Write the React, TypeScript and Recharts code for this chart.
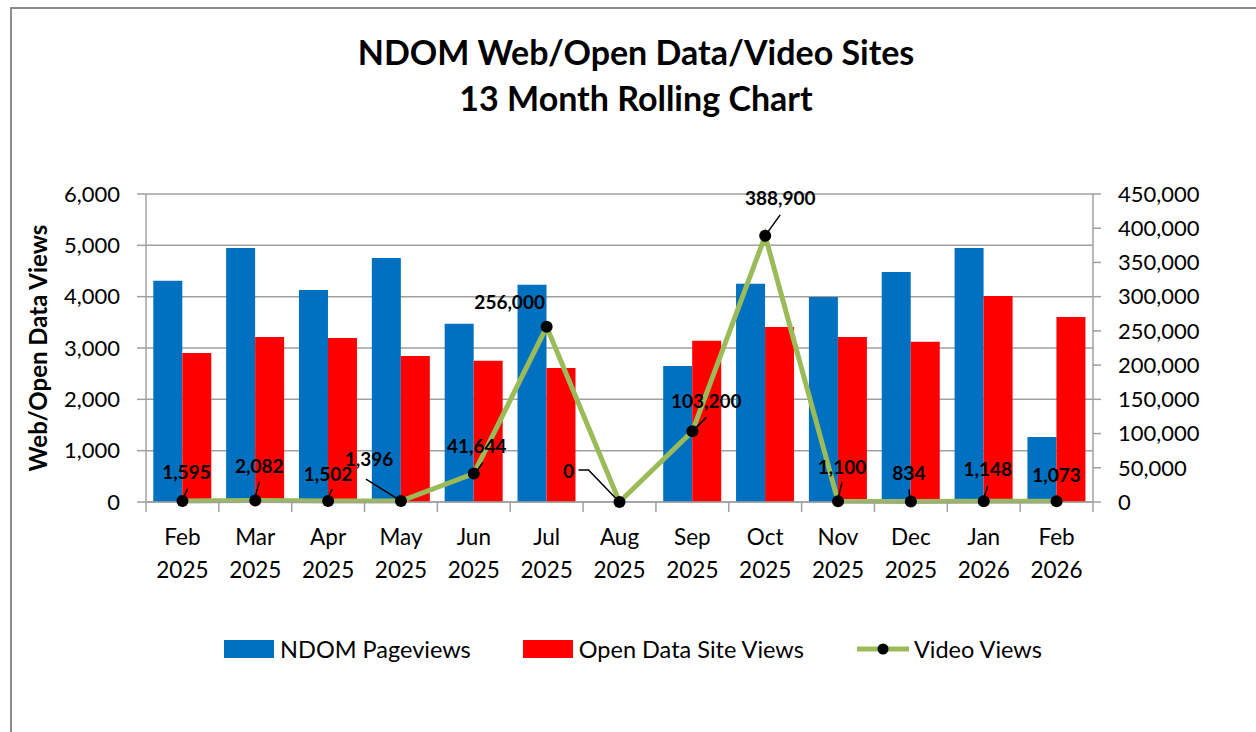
import React from "react";
import {
  ComposedChart,
  Bar,
  Line,
  XAxis,
  YAxis,
  CartesianGrid,
  LabelList,
} from "recharts";

const months = ["Feb", "Mar", "Apr", "May", "Jun", "Jul", "Aug", "Sep", "Oct", "Nov", "Dec", "Jan", "Feb"];
const years = ["2025", "2025", "2025", "2025", "2025", "2025", "2025", "2025", "2025", "2025", "2025", "2026", "2026"];
const ndomPageviews = [4310, 4950, 4130, 4755, 3470, 4230, null, 2650, 4250, 3995, 4480, 4950, 1265];
const openDataViews = [2905, 3215, 3195, 2845, 2750, 2610, null, 3140, 3410, 3215, 3120, 4015, 3605];
const videoViews = [1595, 2082, 1502, 1396, 41644, 256000, 0, 103200, 388900, 1100, 834, 1148, 1073];
const leftTicks = [0, 1000, 2000, 3000, 4000, 5000, 6000];
const rightTicks = [0, 50000, 100000, 150000, 200000, 250000, 300000, 350000, 400000, 450000];

// manual label placement (Excel-style dragged labels): text offset + leader line
const labelPlacement: { dx: number; dy: number; leader?: number[][] }[] = [
  { dx: 4, dy: -29, leader: [[5, -12], [1, -3]] },
  { dx: 4, dy: -35, leader: [[4, -19], [0, -4]] },
  { dx: 0, dy: -27, leader: [[4, -12], [0, -3]] },
  { dx: -32, dy: -43, leader: [[-35, -22], [-3, -2]] },
  { dx: 3, dy: -28, leader: [[9, -11], [2, -1]] },
  { dx: -37, dy: -25 },
  { dx: -51, dy: -32, leader: [[-41, -32], [-31, -32], [-3, -3]] },
  { dx: 14, dy: -31, leader: [[14, -14], [1, -1]] },
  { dx: 15, dy: -38, leader: [[15, -21], [2, -3]] },
  { dx: 4, dy: -35, leader: [[4, -19], [0, -3]] },
  { dx: -2, dy: -29, leader: [[-2, -12], [-1, -3]] },
  { dx: 4, dy: -33, leader: [[4, -15], [0, -3]] },
  { dx: 0, dy: -27 },
];

const data = months.map((m, i) => ({
  month: m,
  year: years[i],
  ndom: ndomPageviews[i],
  openData: openDataViews[i],
  video: videoViews[i],
}));

const FONT = "Lato, 'Open Sans', sans-serif";
const GRID = "#a0a0a0";
const fmt = (v: number) => v.toLocaleString("en-US");

function MonthTick(props: any) {
  const { x, y, payload, index, width, visibleTicksCount } = props;
  const step = width / visibleTicksCount;
  const d = data[index];
  return (
    <g>
      <line x1={x - step / 2} x2={x - step / 2} y1={y} y2={y + 10} stroke={GRID} strokeWidth={1.5} />
      {index === visibleTicksCount - 1 && (
        <line x1={x + step / 2} x2={x + step / 2} y1={y} y2={y + 10} stroke={GRID} strokeWidth={1.5} />
      )}
      <text x={x} y={y + 43} textAnchor="middle" fontSize={22.5} fontFamily={FONT} fill="#000">
        {payload.value}
      </text>
      <text x={x} y={y + 76} textAnchor="middle" fontSize={22.5} fontFamily={FONT} fill="#000">
        {d ? d.year : ""}
      </text>
    </g>
  );
}

function VideoLabel(props: any) {
  const { x, y, value, index } = props;
  const p = labelPlacement[index];
  if (!p) return null;
  return (
    <g>
      {p.leader && (
        <polyline
          points={p.leader.map(([a, b]) => `${x + a},${y + b}`).join(" ")}
          fill="none"
          stroke="#000"
          strokeWidth={1.5}
        />
      )}
      <text
        x={x + p.dx}
        y={y + p.dy}
        textAnchor="middle"
        dominantBaseline="central"
        fontSize={19}
        fontWeight="bold"
        fontFamily={FONT}
        fill="#000"
      >
        {fmt(value)}
      </text>
    </g>
  );
}

function LegendRow() {
  const item = { display: "flex", alignItems: "center", fontSize: 23.5, fontFamily: FONT, color: "#000" } as const;
  return (
    <div
      style={{
        position: "absolute",
        top: 635,
        left: 0,
        width: 1266,
        display: "flex",
        justifyContent: "center",
        gap: 52,
      }}
    >
      <div style={item}>
        <span style={{ width: 50, height: 18, background: "#0070C0", marginRight: 6 }} />
        NDOM Pageviews
      </div>
      <div style={item}>
        <span style={{ width: 50, height: 18, background: "#FF0000", marginRight: 6 }} />
        Open Data Site Views
      </div>
      <div style={item}>
        <svg width={54} height={20} style={{ marginRight: 4 }}>
          <line x1={1} x2={53} y1={10} y2={10} stroke="#9BBB59" strokeWidth={5} />
          <circle cx={27} cy={10} r={5.5} fill="#000" />
        </svg>
        Video Views
      </div>
    </div>
  );
}

export default function App() {
  return (
    <div style={{ position: "absolute", left: 0, top: 0, width: 1256, height: 732, overflow: "hidden", background: "#fff" }}>
      <div
        style={{
          position: "absolute",
          left: 10,
          top: 7,
          width: 1260,
          height: 740,
          border: "2px solid #8c8c8c",
        }}
      />
      <div
        style={{
          position: "absolute",
          top: 29,
          left: 0,
          width: 1272,
          textAlign: "center",
          fontFamily: FONT,
          fontWeight: "bold",
          fontSize: 34,
          lineHeight: "46px",
          color: "#000",
        }}
      >
        NDOM Web/Open Data/Video Sites
        <br />
        13 Month Rolling Chart
      </div>
      <div style={{ position: "absolute", left: 0, top: 0 }}>
        <ComposedChart
          width={1256}
          height={732}
          data={data}
          margin={{ top: 194, right: 0, left: 0, bottom: 0 }}
          barCategoryGap="10%"
          barGap={0}
        >
          <CartesianGrid yAxisId="left" vertical={false} stroke={GRID} strokeWidth={1.5} />
          <XAxis
            dataKey="month"
            height={230}
            tick={<MonthTick />}
            tickLine={false}
            tickSize={0}
            tickMargin={0}
            interval={0}
            axisLine={{ stroke: GRID, strokeWidth: 1.5 }}
          />
          <YAxis
            yAxisId="left"
            width={146}
            domain={[0, 6000]}
            ticks={leftTicks}
            tickFormatter={fmt}
            tickSize={9}
            tickMargin={17}
            tickLine={{ stroke: GRID, strokeWidth: 1.5 }}
            axisLine={{ stroke: GRID, strokeWidth: 1.5 }}
            tick={{ fontSize: 22, fontFamily: FONT, fill: "#000" }}
            label={({ viewBox }: any) => (
              <text
                x={0}
                y={0}
                transform={`translate(37, ${viewBox.y + viewBox.height / 2}) rotate(-90)`}
                textAnchor="middle"
                dominantBaseline="central"
                fontSize={24}
                fontWeight="bold"
                fontFamily={FONT}
                fill="#000"
              >
                Web/Open Data Views
              </text>
            )}
          />
          <YAxis
            yAxisId="right"
            orientation="right"
            width={163}
            domain={[0, 450000]}
            ticks={rightTicks}
            tickFormatter={fmt}
            tickSize={8}
            tickMargin={17}
            tickLine={{ stroke: GRID, strokeWidth: 1.5 }}
            axisLine={{ stroke: GRID, strokeWidth: 1.5 }}
            tick={{ fontSize: 22, fontFamily: FONT, fill: "#000", textAnchor: "start" }}
          />
          <Bar yAxisId="left" dataKey="ndom" name="NDOM Pageviews" fill="#0070C0" isAnimationActive={false} />
          <Bar yAxisId="left" dataKey="openData" name="Open Data Site Views" fill="#FF0000" isAnimationActive={false} />
          <Line
            yAxisId="right"
            dataKey="video"
            name="Video Views"
            stroke="#9BBB59"
            strokeWidth={5}
            dot={{ r: 6, fill: "#000", stroke: "#000", strokeWidth: 0 }}
            activeDot={false}
            isAnimationActive={false}
          >
            <LabelList dataKey="video" content={<VideoLabel />} />
          </Line>
        </ComposedChart>
      </div>
      <LegendRow />
    </div>
  );
}
